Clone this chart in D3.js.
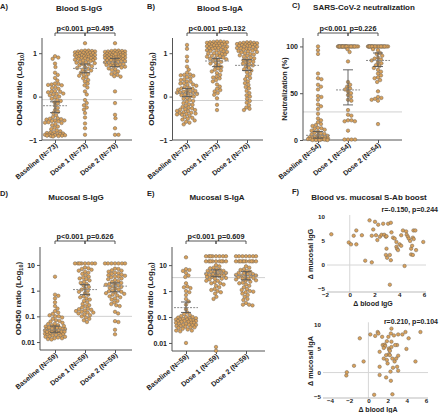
<!DOCTYPE html>
<html><head><meta charset="utf-8">
<script src="https://cdn.jsdelivr.net/npm/d3@7/dist/d3.min.js"></script>
<style>
body{margin:0;background:#fff}
text{font-family:"Liberation Sans",Arial,sans-serif;font-weight:bold;fill:#222}
</style>
</head><body><script>
// ---------------- DATA ----------------
const groups = ["Baseline","Dose 1","Dose 2"];

const A_labels = ["Baseline (N=73)","Dose 1  (N=73)","Dose 2  (N=70)"];
const A_base = [0.93,0.90,0.87,0.76,0.68,0.55,0.50,0.43,0.37,
 0.29,0.28,0.27,0.26,0.22,0.18,0.13,0.12,0.11,0.10,
 0.06,0.05,0.03,0.00,-0.02,-0.05,-0.08,-0.10,-0.13,-0.16,
 -0.21,-0.26,-0.31,-0.35,-0.38,-0.43,-0.47,-0.50,-0.51,-0.53,
 -0.55,-0.56,-0.57,-0.59,-0.61,-0.63,-0.66,-0.69,-0.72,-0.75,
 -0.78,-0.80,-0.82,-0.83,-0.84,-0.85,-0.86,-0.86,-0.87,-0.88,
 -0.88,-0.89,-0.89,-0.90,-0.90,-0.91,-0.91,-0.92,
 -0.55,-0.60,0.07,0.20,-0.52,0.30];
const A_d1 = [1.23,
 1.06,1.06,1.05,1.05,1.04,1.04,
 1.02,1.02,1.01,1.01,1.00,1.00,0.99,
 0.97,0.97,0.96,0.96,0.95,0.95,
 0.93,0.93,0.92,0.92,0.91,0.91,
 0.89,0.89,0.88,0.88,0.87,
 0.85,0.85,0.84,0.83,0.82,
 0.80,0.79,0.78,0.77,
 0.75,0.74,0.72,0.70,
 0.68,0.66,0.64,0.62,0.60,0.57,0.55,
 0.52,0.48,0.45,0.42,0.38,0.35,0.30,0.26,0.21,0.12,0.05,
 -0.08,-0.15,-0.20,-0.25,-0.30,-0.38,-0.48,-0.62,-0.73,-0.88,0.50];
const A_d2 = [1.23,
 1.06,1.06,1.05,1.05,1.04,1.04,1.03,
 1.02,1.01,1.01,1.00,1.00,0.99,
 0.97,0.97,0.96,0.96,0.95,0.95,0.94,
 0.93,0.92,0.92,0.91,0.90,0.90,
 0.88,0.88,0.87,0.87,0.86,
 0.84,0.84,0.83,0.82,0.81,
 0.79,0.78,0.77,0.76,
 0.74,0.73,0.72,0.71,
 0.69,0.67,0.65,0.63,0.61,0.58,0.55,0.52,
 0.50,0.47,0.46,0.12,-0.15,-0.42,-0.50,-0.73,-0.88,-0.88,
 0.98,0.94,0.89,0.80,0.75,0.70];
const A_med = [-0.21,0.65,0.79], A_lo = [-0.37,0.55,0.69], A_hi = [-0.12,0.75,0.88];
const A_cut = -0.07;
const A_p = ["p<0.001","p=0.495"];

const B_labels = ["Baseline (N=73)","Dose 1  (N=73)","Dose 2  (N=70)"];
const B_base = [1.19,1.10,0.92,0.82,0.69,0.62,0.55,0.51,0.50,0.49,0.48,0.45,0.42,0.38,0.35,0.34,0.31,0.30,0.28,0.27,
 0.22,0.19,0.18,0.16,0.14,0.12,0.11,0.10,0.09,0.08,0.07,0.05,0.03,0.01,0.00,
 -0.03,-0.05,-0.08,-0.12,-0.15,-0.18,-0.19,-0.21,-0.24,-0.26,-0.27,-0.29,-0.30,-0.31,
 -0.34,-0.36,-0.37,-0.38,-0.40,-0.41,-0.42,-0.44,-0.47,-0.49,-0.51,-0.53,-0.55,-0.58,-0.60,-0.64,
 0.25,0.13,0.06,-0.10,-0.33,-0.39,0.40,0.20];
const B_d1 = [1.27,1.27,1.26,1.26,1.25,1.25,1.24,
 1.22,1.22,1.21,1.21,1.20,1.20,
 1.18,1.17,1.17,1.16,1.15,1.15,
 1.13,1.12,1.12,1.11,1.10,1.10,
 1.08,1.07,1.06,1.05,1.04,1.03,
 1.01,1.00,0.99,0.98,0.97,
 0.95,0.94,0.93,0.92,0.90,
 0.88,0.87,0.86,0.84,0.82,
 0.80,0.78,0.76,0.73,0.70,0.68,
 0.62,0.58,0.54,0.50,0.46,0.42,0.35,0.28,0.23,0.15,0.12,0.08,0.04,-0.04,-0.19,-0.31,
 0.65,0.60,0.44,0.38,0.18];
const B_d2 = [1.25,1.25,1.24,1.24,1.23,1.23,
 1.21,1.21,1.20,1.20,1.19,1.19,
 1.17,1.17,1.16,1.15,1.15,1.14,
 1.12,1.11,1.10,1.10,1.09,1.08,
 1.06,1.05,1.04,1.03,1.02,
 1.00,0.98,0.97,0.95,0.94,
 0.92,0.90,0.88,0.86,
 0.84,0.82,0.80,0.78,0.76,
 0.74,0.72,0.70,0.66,
 0.60,0.56,0.52,0.47,0.43,0.40,0.35,0.31,0.27,0.22,
 0.19,0.13,0.08,0.03,0.00,-0.05,-0.10,-0.14,-0.20,-0.25,-0.28,-0.31,0.63];
const B_med = [0.08,0.82,0.72], B_lo = [0.0,0.69,0.60], B_hi = [0.19,0.88,0.85];
const B_cut = -0.09;
const B_p = ["p<0.001","p=0.132"];

const C_labels = ["Baseline (N=54)","Dose 1  (N=54)","Dose 2  (N=54)"];
const C_base = [100,96,92,71,66,65,59,57,54,47,46,43,38,36,33,28,
 23,21,19,17,16,15,13,12.5,12,11,
 10,9,8,7,6.5,6,5,4.5,4,3.5,
 3,2.5,2,2,1.5,1.5,1,1,1,1,
 0.5,0.5,0.5,0.5,0,0,0,0];
const C_d1 = [100,100,100,100,100,100,100,100,100,100,100,100,100,100,
 100,100,100,100,100,100,100,100,100,100,100,100,100,100,
 97,94,84,62,59,57,55,54,52,50,48,46,43,42,
 32,27,26,21,21,20,20,10,0.5,0.5,0.5,0.5];
const C_d2 = [100,100,100,100,100,100,100,100,100,100,100,100,100,
 100,100,100,100,100,100,100,100,100,100,100,100,
 97,96,93,92,90,88,87,86,85,83,82,80,79,77,75,73,71,69,67,66,64,62,
 52,46,45,44,43,42,17];
const C_med = [5,53.5,85], C_lo = [2,37.5,78.5], C_hi = [9,75,93];
const C_cut = 30;
const C_p = ["p<0.001","p=0.226"];

const D_labels = ["Baseline (N=59)","Dose 1 (N=59)","Dose 2 (N=59)"];
const D_base = [3.5,0.7,0.63,0.5,0.35,0.25,0.2,0.16,0.14,0.125,0.11,
 0.1,0.1,0.09,0.08,0.07,0.063,0.056,0.05,0.045,0.045,0.04,0.04,0.035,0.035,
 0.032,0.032,0.032,0.028,0.028,0.028,0.025,0.025,0.025,0.024,0.022,0.022,0.021,0.02,0.02,
 0.019,0.018,0.018,0.0166,0.016,0.016,0.015,0.014,0.014,0.013,0.0126,
 0.025,0.026,0.03,0.033,0.037,0.042,0.052,0.066];
const D_d1 = [11.5,11.5,11.5,11.5,11.5,11.5,11.5,11.5,
 8,7.5,7,6.5,6,5.5,5,4.5,4,3.5,3.2,3,2.8,
 2.5,2.2,2,1.8,1.6,1.4,1.2,1.1,1.0,0.9,0.8,0.7,0.6,0.55,0.5,0.45,0.4,0.35,0.3,0.27,
 0.25,0.22,0.2,0.19,0.18,0.17,0.16,0.15,0.14,0.14,0.13,0.12,0.11,0.1,0.09,0.08,0.07,0.06];
const D_d2 = [11.5,11.5,11.5,11.5,11.5,11.5,11.5,
 7.2,7,6.2,6,5.5,5,4.8,4.5,4.2,4,3.8,3.5,3.3,3,2.8,2.6,
 2.4,2.2,2,1.9,1.8,1.7,1.6,1.5,1.4,1.3,1.2,1.1,1.0,0.95,0.9,0.85,0.8,0.75,
 0.7,0.65,0.6,0.55,0.5,0.45,0.4,0.35,0.3,0.27,0.25,0.15,0.13,0.065,0.06,0.03,0.02,3.6];
const D_med = [0.03,1.1,1.5], D_lo = [0.024,0.7,0.9], D_hi = [0.042,1.7,2.0];
const D_cut = 0.1;
const D_p = ["p<0.001","p=0.626"];

const E_labels = ["Baseline (N=59)","Dose 1  (N=59)","Dose 2  (N=59)"];
const E_base = [20,7,6.5,5,4,3.5,2,1.5,1.4,1.3,1,0.9,0.7,0.5,0.4,0.3,
 0.2,0.15,0.13,0.12,0.11,0.1,0.1,0.095,0.09,0.09,0.085,0.08,0.08,0.08,
 0.075,0.075,0.07,0.07,0.07,0.065,0.065,0.06,0.06,0.06,0.055,0.055,0.05,0.05,0.05,
 0.048,0.045,0.045,0.042,0.04,0.04,0.038,0.035,0.033,0.03,0.03,0.028,0.01,6];
const E_d1 = [22,22,22,22,22,22,22,22,14,14,14,14,14,14,14,14,14,
 8,7.5,7,6.5,6,6,5.5,5.5,5,5,
 4.8,4.5,4.5,4.2,4,4,3.8,3.5,3.5,3.2,
 3,3,2.8,2.5,2.5,2.2,2,2,1.8,1.6,
 1.4,1.2,1.0,0.9,0.8,0.6,0.5,0.007,0.005,9,10,1.1];
const E_d2 = [22,22,22,22,22,22,22,14,14,14,14,14,14,14,14,14,14,
 8,7,6.5,6,5.5,5,5,4.5,4.5,4.2,
 4,4,3.8,3.5,3.5,3.2,3,3,2.8,2.6,
 2.5,2.3,2.1,2,1.8,1.6,1.4,1.2,1.0,0.9,
 0.8,0.7,0.6,0.5,0.45,0.35,0.3,0.3,0.28,9,1.1,0.95];
const E_med = [0.23,4.9,4.0], E_lo = [0.15,3.6,2.7], E_hi = [0.38,6.6,5.6];
const E_cut = 3.3;
const E_p = ["p<0.001","p=0.609"];

// Panel F: deltas
const FG_x = [-1.49,-0.08,0.10,0.32,0.53,0.53,0.98,1.25,1.60,1.78,1.78,1.90,2.04,2.12,2.23,2.30,2.44,2.57,2.70,2.79,
 2.92,2.97,2.92,2.97,3.02,3.10,3.32,3.37,3.50,3.63,3.77,3.82,3.90,3.24,3.32,3.24,3.77,4.03,4.16,4.30,
 4.56,4.60,4.70,4.77,4.88,4.43,4.96,5.04,4.96,5.10,5.15,5.30,5.10,5.17,5.36,5.94,4.16];
const FG_y = [6.4,4.7,4.3,6.1,7.2,4.3,6.2,0.9,9.3,6.1,0.55,7.4,9.0,6.2,5.2,8.4,5.9,6.3,8.6,6.3,
 5.9,6.0,2.1,3.4,1.5,8.6,8.8,6.8,5.7,5.5,3.8,3.4,3.1,2.1,1.0,-4.1,4.8,4.3,4.0,7.2,
 7.0,6.3,5.9,5.5,5.0,-0.2,3.4,4.0,2.2,2.1,7.2,7.2,5.7,5.4,3.1,4.8,6.2];
const FA_x = [-2.3,-2.25,-1.5,-0.9,-0.5,0.2,0.6,0.71,0.97,1.04,1.17,1.17,1.17,1.43,1.49,1.6,1.69,1.75,1.85,1.85,
 1.92,2.0,2.08,2.14,2.18,2.24,2.14,2.24,2.4,2.34,2.4,2.4,2.34,2.3,2.5,2.5,2.56,2.73,2.66,2.99,
 2.79,2.89,2.99,3.1,3.1,3.1,3.54,3.86,3.96,4.19,4.9,5.42,1.92,1.6];
const FA_y = [-0.6,0.07,1.4,7.1,2.3,7.9,-4.6,7.6,8.4,8.1,4.3,1.2,-0.5,7.4,5.7,2.9,5.8,5.5,3.6,-1.0,
 6.5,1.9,7.4,5.0,4.7,4.5,3.8,3.6,9.1,8.1,6.4,5.3,-1.7,0.2,-4.5,2.9,1.0,2.3,7.7,5.7,
 5.7,2.9,1.2,7.9,3.5,0.4,7.9,8.4,4.9,7.1,2.3,8.4,2.6,5.1];

// ---------------- DRAWING ----------------
const W = 440, H = 413;
const svg = d3.select("body").append("svg").attr("width", W).attr("height", H);
const DOT_FILL = "#d9a15a", DOT_STROKE = "#6f6254", R = 1.75, SWARM_W = 10;

function swarm(ys, r, maxW) {
  const d = 2 * r;
  const idx = ys.map((y, i) => i).sort((a, b) => ys[a] - ys[b]);
  const placed = [], xs = new Array(ys.length);
  for (const i of idx) {
    const y = ys[i];
    const near = placed.filter(p => Math.abs(p.y - y) < d);
    const cands = [0];
    near.forEach(p => { const h = Math.sqrt(d * d - (p.y - y) ** 2); cands.push(p.x + h + 0.01, p.x - h - 0.01); });
    const ok = cands.filter(c => Math.abs(c) <= maxW && near.every(p => (p.x - c) ** 2 + (p.y - y) ** 2 >= d * d - 0.05))
      .sort((a, b) => Math.abs(a) - Math.abs(b));
    let x = 0;
    if (ok.length) x = ok[0];
    else {
      let best = -1;
      for (let c = -maxW; c <= maxW + 1e-6; c += 0.5) {
        const m = d3.min(near, p => Math.hypot(p.x - c, p.y - y));
        if (m > best) { best = m; x = c; }
      }
    }
    xs[i] = x; placed.push({ x, y });
  }
  return xs;
}

function styleAxis(sel) {
  sel.selectAll("path,line").attr("stroke", "#555").attr("stroke-width", 1);
  sel.selectAll("text").attr("font-size", 7).attr("font-weight", "bold").attr("fill", "#222")
    .attr("font-family", '"Liberation Sans",Arial,sans-serif');
}

function dotPanel(P) {
  const g = svg.append("g");
  const y = (P.log ? d3.scaleLog() : d3.scaleLinear()).domain(P.domain).range([P.yBot, P.yTop]);
  const x = d3.scalePoint().domain(groups).range(P.cols);

  g.append("text").attr("x", P.letter[0]).attr("y", P.letter[1]).attr("font-size", 7.5).text(P.id + ")");
  g.append("text").attr("x", P.titlePos[0]).attr("y", P.titlePos[1]).attr("text-anchor", "middle")
    .attr("font-size", 8).text(P.title);

  g.append("line").attr("x1", P.x0).attr("x2", P.x1).attr("y1", y(P.cut)).attr("y2", y(P.cut))
    .attr("stroke", "#d0d0d0").attr("stroke-width", 1);

  const ya = g.append("g").attr("transform", `translate(${P.x0},0)`)
    .call(d3.axisLeft(y).tickValues(P.ticks).tickFormat(P.fmt).tickSize(3).tickPadding(2).tickSizeOuter(0));
  ya.select(".domain").attr("d", `M0,${P.yTop}V${P.yBot}`);
  styleAxis(ya);

  const xa = g.append("g").attr("transform", `translate(0,${P.yBot})`)
    .call(d3.axisBottom(x).tickSize(3).tickFormat(""));
  xa.select(".domain").attr("d", `M${P.x0},0H${P.x1}`);
  styleAxis(xa);
  groups.forEach((gr, i) => {
    g.append("text").attr("transform", `translate(${x(gr) + 3},${P.yBot + 6}) rotate(-40)`)
      .attr("text-anchor", "end").attr("font-size", 7).text(P.labels[i]);
  });

  const yl = g.append("text").attr("transform", `translate(${P.ylabelX},${(P.yTop + P.yBot) / 2}) rotate(-90)`)
    .attr("text-anchor", "middle").attr("font-size", P.ylabelSize || 8);
  if (P.ylabelSub) {
    yl.append("tspan").text(P.ylabel);
    yl.append("tspan").attr("font-size", 5.5).attr("dy", 2).text(P.ylabelSub);
    yl.append("tspan").attr("dy", -2).text(")");
  } else yl.text(P.ylabel);

  P.data.forEach((vals, i) => {
    const ys = vals.map(v => y(v));
    const xs = swarm(ys, R, SWARM_W);
    g.append("g").selectAll("circle").data(vals).join("circle")
      .attr("cx", (d, k) => x(groups[i]) + xs[k]).attr("cy", (d, k) => ys[k]).attr("r", R)
      .attr("fill", DOT_FILL).attr("stroke", DOT_STROKE).attr("stroke-width", 0.5);
  });

  groups.forEach((gr, i) => {
    const cx = x(gr);
    g.append("line").attr("x1", cx - 12).attr("x2", cx + 12).attr("y1", y(P.med[i])).attr("y2", y(P.med[i]))
      .attr("stroke", "#8a8a8a").attr("stroke-width", 1).attr("stroke-dasharray", "2,1.2");
    g.append("line").attr("x1", cx).attr("x2", cx).attr("y1", y(P.lo[i])).attr("y2", y(P.hi[i]))
      .attr("stroke", "#555").attr("stroke-width", 0.9);
    [P.lo[i], P.hi[i]].forEach(v => g.append("line").attr("x1", cx - 5).attr("x2", cx + 5)
      .attr("y1", y(v)).attr("y2", y(v)).attr("stroke", "#555").attr("stroke-width", 0.9));
  });

  const by = P.bracketY;
  [[0, 1], [1, 2]].forEach(([a, b], k) => {
    const xa1 = x(groups[a]), xb1 = x(groups[b]);
    g.append("path").attr("d", `M${xa1},${by + 3}V${by}H${xb1}V${by + 3}`)
      .attr("fill", "none").attr("stroke", "#444").attr("stroke-width", 0.9);
    g.append("text").attr("x", (xa1 + xb1) / 2).attr("y", by - 2.5).attr("text-anchor", "middle")
      .attr("font-size", 7.3).text(P.p[k]);
  });
}

const lin = d => d3.format("d")(d);
const logFmt = d => String(d);

dotPanel({ id: "A", title: "Blood S-IgG", letter: [0, 9], titlePos: [79, 11],
  x0: 42, x1: 132, yTop: 38, yBot: 140, cols: [55, 115], log: false, domain: [-1, 1.35], ticks: [-1, 0, 1], fmt: lin,
  ylabel: "OD450 ratio (Log", ylabelSub: "10", ylabelX: 22, labels: A_labels,
  data: [A_base, A_d1, A_d2], med: A_med, lo: A_lo, hi: A_hi, cut: A_cut, p: A_p, bracketY: 33 });

dotPanel({ id: "B", title: "Blood S-IgA", letter: [147, 9], titlePos: [220, 11],
  x0: 172.5, x1: 263, yTop: 38, yBot: 140, cols: [187, 247], log: false, domain: [-1, 1.35], ticks: [-1, 0, 1], fmt: lin,
  ylabel: "OD450 ratio (Log", ylabelSub: "10", ylabelX: 154, labels: B_labels,
  data: [B_base, B_d1, B_d2], med: B_med, lo: B_lo, hi: B_hi, cut: B_cut, p: B_p, bracketY: 33 });

dotPanel({ id: "C", title: "SARS-CoV-2 neutralization", letter: [292, 8], titlePos: [364, 10],
  x0: 303, x1: 402, yTop: 38, yBot: 140, cols: [318, 378], log: false, domain: [0, 109], ticks: [0, 50, 100], fmt: lin,
  ylabel: "Neutralization (%)", ylabelSize: 7.5, ylabelX: 287, labels: C_labels,
  data: [C_base, C_d1, C_d2], med: C_med, lo: C_lo, hi: C_hi, cut: C_cut, p: C_p, bracketY: 33 });

dotPanel({ id: "D", title: "Mucosal S-IgG", letter: [0, 196], titlePos: [76, 200],
  x0: 40, x1: 132, yTop: 247, yBot: 350, cols: [55, 115], log: true, domain: [0.0049, 50], ticks: [0.01, 0.1, 1, 10], fmt: logFmt,
  ylabel: "OD450 ratio (Log", ylabelSub: "10", ylabelX: 21, labels: D_labels,
  data: [D_base, D_d1, D_d2], med: D_med, lo: D_lo, hi: D_hi, cut: D_cut, p: D_p, bracketY: 241 });

dotPanel({ id: "E", title: "Mucosal S-IgA", letter: [147, 196], titlePos: [217, 200],
  x0: 172, x1: 265, yTop: 247, yBot: 351, cols: [186, 246], log: true, domain: [0.0049, 50], ticks: [0.01, 0.1, 1, 10], fmt: logFmt,
  ylabel: "OD450 ratio (Log", ylabelSub: "10", ylabelX: 153, labels: E_labels,
  data: [E_base, E_d1, E_d2], med: E_med, lo: E_lo, hi: E_hi, cut: E_cut, p: E_p, bracketY: 241 });

// ---------------- Panel F ----------------
const gF = svg.append("g");
gF.append("text").attr("x", 292).attr("y", 194).attr("font-size", 7.5).text("F)");
gF.append("text").attr("x", 369).attr("y", 200).attr("text-anchor", "middle").attr("font-size", 8)
  .text("Blood vs. mucosal S-Ab boost");

function scatter(S) {
  const g = gF.append("g");
  const x = d3.scaleLinear().domain(S.xdom).range(S.xr);
  const y = d3.scaleLinear().domain([-5, 10]).range(S.yr);
  g.append("line").attr("x1", x(0)).attr("x2", x(0)).attr("y1", y(10) - 2).attr("y2", S.axisY)
    .attr("stroke", "#d6d6d6");
  g.append("line").attr("x1", S.ytickX + 2).attr("x2", S.xr[1] + 2).attr("y1", y(0)).attr("y2", y(0))
    .attr("stroke", "#d6d6d6");
  const xa = g.append("g").attr("transform", `translate(0,${S.axisY})`)
    .call(d3.axisBottom(x).tickValues(S.xticks).tickSize(0).tickPadding(1).tickFormat(d3.format("d")));
  styleAxis(xa);
  xa.select(".domain").attr("d", `M${S.ytickX + 2},0H${S.xr[1] + 2}`).attr("stroke", "#bbb");
  xa.selectAll("text").attr("font-size", 6.2);
  const ya = g.append("g").attr("transform", `translate(${S.ytickX},0)`)
    .call(d3.axisLeft(y).tickValues([-5, 0, 5, 10]).tickSize(0).tickPadding(0).tickFormat(d3.format("d")));
  ya.select(".domain").remove();
  styleAxis(ya);
  ya.selectAll("text").attr("font-size", 6.2);
  g.append("text").attr("x", S.xlabX).attr("y", S.xlabY).attr("text-anchor", "middle")
    .attr("font-size", 7).text(S.xlabel);
  g.append("text").attr("transform", `translate(${S.ylabX},${S.ylabY}) rotate(-90)`).attr("text-anchor", "middle")
    .attr("font-size", 7.2).text(S.ylabel);
  g.append("text").attr("x", 438).attr("y", S.rY).attr("text-anchor", "end").attr("font-size", 7).text(S.rtext);
  g.selectAll("circle").data(S.xs).join("circle")
    .attr("cx", d => x(d)).attr("cy", (d, i) => y(S.ys[i])).attr("r", R)
    .attr("fill", DOT_FILL).attr("stroke", DOT_STROKE).attr("stroke-width", 0.5);
}

scatter({ xdom: [-2, 6], xr: [325, 424], yr: [289, 217], axisY: 292, xticks: [-2, 0, 2, 4, 6], ytickX: 325,
  xs: FG_x, ys: FG_y, xlabel: "Δ blood IgG", xlabX: 373, xlabY: 306, ylabel: "Δ mucosal IgG", ylabX: 313, ylabY: 254,
  rtext: "r=-0.150, p=0.244", rY: 212 });
scatter({ xdom: [-4, 6], xr: [330, 426], yr: [396.7, 324.3], axisY: 398, xticks: [-4, -2, 0, 2, 4, 6], ytickX: 321,
  xs: FA_x, ys: FA_y, xlabel: "Δ blood IgA", xlabX: 378, xlabY: 411.8, ylabel: "Δ mucosal IgA", ylabX: 313, ylabY: 361,
  rtext: "r=0.210, p=0.104", rY: 324 });
</script></body></html>
